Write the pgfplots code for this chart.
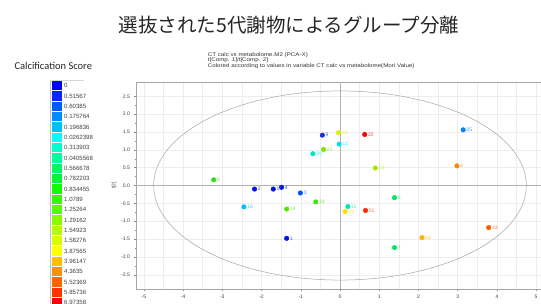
\documentclass[border=0pt]{standalone}
\usepackage{pgfplots}
\pgfplotsset{compat=1.18}
\usepackage{fontspec}
\setmainfont{Liberation Sans}
\newfontfamily\cjk{Noto Sans CJK JP}
\newfontfamily\carlito{Carlito}

% point colours
\definecolor{cA}{RGB}{0,20,230}
\definecolor{c3}{RGB}{0,80,255}
\definecolor{c9}{RGB}{25,45,225}
\definecolor{c25}{RGB}{0,130,255}
\definecolor{c16}{RGB}{0,190,255}
\definecolor{c12}{RGB}{0,220,255}
\definecolor{c20}{RGB}{0,228,205}
\definecolor{c11}{RGB}{0,235,170}
\definecolor{c5}{RGB}{0,230,100}
\definecolor{c8}{RGB}{40,230,20}
\definecolor{c19}{RGB}{60,232,10}
\definecolor{c14}{RGB}{85,230,0}
\definecolor{c24}{RGB}{130,230,0}
\definecolor{c13}{RGB}{170,230,0}
\definecolor{c10}{RGB}{215,240,0}
\definecolor{c15}{RGB}{255,228,0}
\definecolor{c18}{RGB}{255,180,0}
\definecolor{c6}{RGB}{255,140,0}
\definecolor{c23}{RGB}{255,90,0}
\definecolor{c21}{RGB}{255,40,0}
\definecolor{c22}{RGB}{255,0,0}

% legend colours
\definecolor{l0}{RGB}{0,0,255}
\definecolor{l1}{RGB}{0,40,255}
\definecolor{l2}{RGB}{0,90,255}
\definecolor{l3}{RGB}{0,140,255}
\definecolor{l4}{RGB}{0,190,255}
\definecolor{l5}{RGB}{0,255,255}
\definecolor{l6}{RGB}{0,255,205}
\definecolor{l7}{RGB}{0,255,155}
\definecolor{l8}{RGB}{0,250,100}
\definecolor{l9}{RGB}{0,245,50}
\definecolor{l10}{RGB}{20,250,0}
\definecolor{l11}{RGB}{50,250,0}
\definecolor{l12}{RGB}{90,250,0}
\definecolor{l13}{RGB}{135,250,0}
\definecolor{l14}{RGB}{180,250,0}
\definecolor{l15}{RGB}{220,250,0}
\definecolor{l16}{RGB}{255,255,0}
\definecolor{l17}{RGB}{255,190,0}
\definecolor{l18}{RGB}{255,145,0}
\definecolor{l19}{RGB}{255,100,0}
\definecolor{l20}{RGB}{255,50,0}
\definecolor{l21}{RGB}{255,0,0}

\newcommand{\dpoint}[4]{%
  \addplot[only marks, mark=*, mark size=2.3pt, color=#3,
    nodes near coords={#4},
    every node near coord/.append style={anchor=west, inner sep=0pt,
      xshift=3.2pt, font=\fontsize{5}{5.5}\selectfont, text=#3!75!white}]
    coordinates {(#1,#2)};}

\begin{document}
\begin{tikzpicture}[x=1pt,y=1pt]
\useasboundingbox (0,0) rectangle (541,304);
\clip (0,0) rectangle (541,304);

% title
\node[font=\cjk\fontsize{19.5}{22}\selectfont, text=black!85] at (289,279) {選抜された5代謝物によるグループ分離};

% colour key
\node[anchor=west, font=\carlito\fontsize{10.5}{12}\selectfont, text=black!85] at (11,238.3) {Calcification Score};
\draw[black!25, line width=0.4pt] (50,304-80) -- (50,0);
\draw[black!15, line width=0.4pt] (50,304-80) -- (84,304-80);
\foreach \i/\t in {0/0, 1/0.51567, 2/0.60385, 3/0.175764, 4/0.196836, 5/0.0262398,
  6/0.313903, 7/0.0405568, 8/0.566678, 9/0.782203, 10/0.834455, 11/1.0789,
  12/1.25264, 13/1.29162, 14/1.54923, 15/1.58276, 16/3.87565, 17/3.96147,
  18/4.3635, 19/5.52369, 20/5.85736, 21/6.97358} {
  \pgfmathsetmacro{\yc}{304-85.7-10.33*\i}
  \fill[l\i] (52,\yc-4.6) rectangle (62,\yc+4.6);
  \node[anchor=west, inner sep=0pt, font=\fontsize{6.1}{6.5}\selectfont, text=black!75] at (64,\yc) {\t};
}

% header text
\node[anchor=west, inner sep=0pt, font=\fontsize{5.3}{5.5}\selectfont, text=black!80] at (207.7,304-55) {\scalebox{1.17}[1]{CT calc vs metabolome.M2 (PCA-X)}};
\node[anchor=west, inner sep=0pt, font=\fontsize{5.3}{5.5}\selectfont, text=black!80] at (207.7,304-60.5) {\scalebox{1.17}[1]{t[Comp. 1]/t[Comp. 2]}};
\node[anchor=west, inner sep=0pt, font=\fontsize{5.3}{5.5}\selectfont, text=black!80] at (207.7,304-65.7) {\scalebox{1.17}[1]{Colored according to values in variable CT calc vs metabolome(Mori Value)}};

\begin{axis}[
  at={(136pt,15pt)}, anchor=south west,
  scale only axis, width=408pt, height=207pt,
  xmin=-5.2, xmax=5.2, ymin=-2.9, ymax=2.9,
  xtick={-5,-4,...,5}, ytick={-2.5,-2,...,2.5},
  minor x tick num=1, minor y tick num=1,
  xmajorgrids, xminorgrids, ymajorgrids,
  grid style={black!7, line width=0.4pt},
  minor grid style={black!7, line width=0.4pt},
  axis line style={black!35, line width=0.6pt},
  tick pos=left, tick align=outside,
  major tick length=2.5pt, minor tick length=1.5pt,
  tick style={black!45, line width=0.4pt},
  /pgf/number format/assume math mode=true,
  xticklabel style={font=\fontsize{5.1}{5.5}\selectfont, text=black!75},
  yticklabel style={font=\fontsize{5.1}{5.5}\selectfont, text=black!75, /pgf/number format/.cd, fixed, fixed zerofill, precision=1},
  ylabel={t[2]}, ylabel style={font=\fontsize{5}{5.5}\selectfont, text=black!70, yshift=-2pt},
  clip=true,
]
\draw[black!30, line width=0.7pt] (axis cs:-5.2,0) -- (axis cs:5.2,0);
\draw[black!30, line width=0.7pt] (axis cs:0,-2.9) -- (axis cs:0,2.9);
\draw[black!35, line width=0.5pt] (axis cs:0,0) ellipse [x radius=4.75, y radius=2.65];

\dpoint{-1.36}{-1.48}{cA}{1}
\dpoint{-2.18}{-0.10}{cA}{2}
\dpoint{-1.01}{-0.21}{c3}{3}
\dpoint{-1.49}{-0.05}{cA}{4}
\dpoint{1.39}{-0.34}{c5}{5}
\dpoint{2.98}{0.55}{c6}{6}
\dpoint{1.39}{-1.74}{c5}{7}
\dpoint{-3.22}{0.16}{c8}{8}
\dpoint{-0.45}{1.41}{c9}{9}
\dpoint{-0.04}{1.48}{c10}{10}
\dpoint{0.20}{-0.59}{c11}{11}
\dpoint{-0.02}{1.16}{c12}{12}
\dpoint{0.90}{0.49}{c13}{13}
\dpoint{-1.36}{-0.66}{c14}{14}
\dpoint{0.13}{-0.73}{c15}{15}
\dpoint{-2.45}{-0.60}{c16}{16}
\dpoint{-1.70}{-0.10}{cA}{17}
\dpoint{2.09}{-1.46}{c18}{18}
\dpoint{-0.62}{-0.46}{c19}{19}
\dpoint{-0.69}{0.89}{c20}{20}
\dpoint{0.65}{-0.70}{c21}{21}
\dpoint{0.63}{1.43}{c22}{22}
\dpoint{3.79}{-1.18}{c23}{23}
\dpoint{-0.42}{1.01}{c24}{24}
\dpoint{3.14}{1.56}{c25}{25}
\end{axis}
\end{tikzpicture}
\end{document}
